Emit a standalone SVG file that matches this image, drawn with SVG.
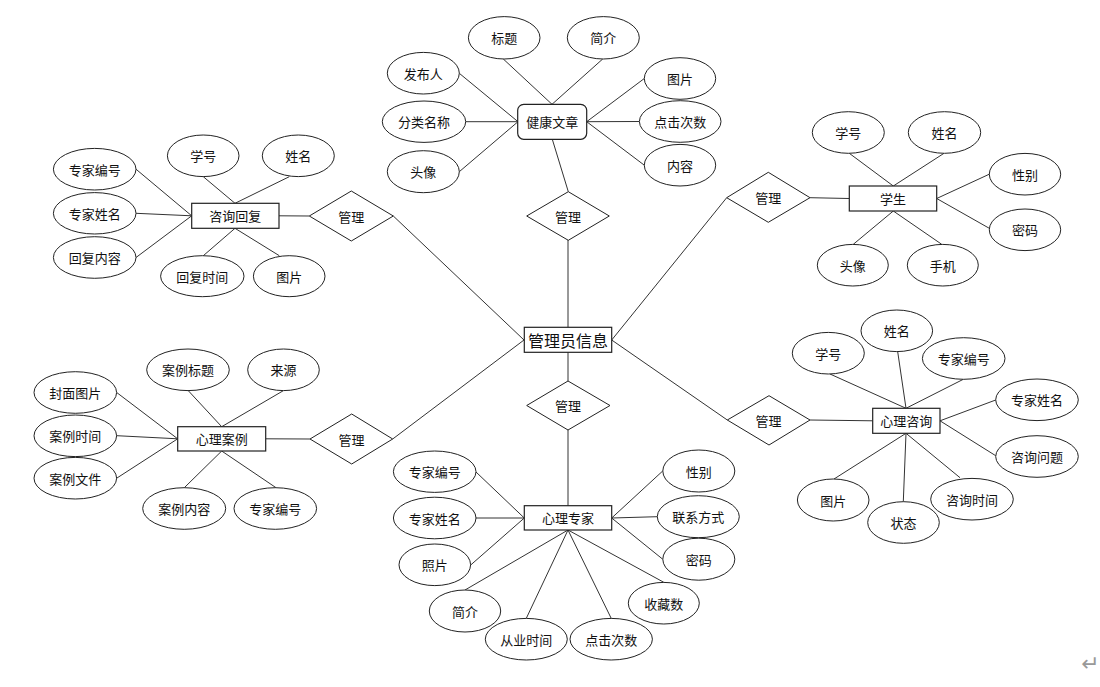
<svg xmlns="http://www.w3.org/2000/svg" width="1100" height="687" viewBox="0 0 1100 687">
<style>
.bg{fill:#fff}
.attr ellipse{fill:#fff;stroke:#222;stroke-width:1}
.ent rect{fill:#fff;stroke:#222;stroke-width:1.2}
.rel polygon{fill:#fff;stroke:#222;stroke-width:1}
text{font-family:"Noto Sans CJK SC","Microsoft YaHei",sans-serif;font-size:13px;fill:#111;text-anchor:middle;dominant-baseline:central}
.big{font-size:16px}
#connectors line{stroke:#333;stroke-width:1}
.mark{font-family:"DejaVu Sans",sans-serif;font-size:22px;fill:#999;text-anchor:start}
</style>
<rect class="bg" x="0" y="0" width="1100" height="687"/>
<g id="connectors">
<line x1="568" y1="240" x2="568" y2="327"/>
<line x1="568" y1="352" x2="568" y2="381"/>
<line x1="568" y1="430" x2="568" y2="506"/>
<line x1="393.3" y1="216" x2="524" y2="340"/>
<line x1="392.7" y1="439" x2="524" y2="340"/>
<line x1="726.7" y1="197.7" x2="611.7" y2="340"/>
<line x1="727.3" y1="420" x2="611.7" y2="340"/>
<line x1="552.3" y1="139.3" x2="568.3" y2="191.7"/>
<line x1="503.3" y1="59" x2="552" y2="104.3"/>
<line x1="602.7" y1="59" x2="552" y2="104.3"/>
<line x1="459.3" y1="73.3" x2="518" y2="121.7"/>
<line x1="465.7" y1="121.7" x2="518" y2="121.7"/>
<line x1="459.3" y1="171.7" x2="518" y2="121.7"/>
<line x1="644.3" y1="78.5" x2="586.7" y2="121.7"/>
<line x1="639.3" y1="121.5" x2="586.7" y2="121.7"/>
<line x1="644.3" y1="165.2" x2="586.7" y2="121.7"/>
<line x1="136" y1="169.2" x2="191.7" y2="215.8"/>
<line x1="136" y1="213.3" x2="191.7" y2="215.8"/>
<line x1="136" y1="257.5" x2="191.7" y2="215.8"/>
<line x1="203.3" y1="176.7" x2="235" y2="203.3"/>
<line x1="289.3" y1="176.7" x2="235" y2="203.3"/>
<line x1="203.3" y1="255.7" x2="235" y2="228.3"/>
<line x1="279.3" y1="255.7" x2="235" y2="228.3"/>
<line x1="279" y1="215.8" x2="309.3" y2="216"/>
<line x1="810" y1="197.7" x2="849.3" y2="198.5"/>
<line x1="849.3" y1="153.3" x2="893.3" y2="186"/>
<line x1="944" y1="153.3" x2="893.3" y2="186"/>
<line x1="989.3" y1="174.2" x2="936.7" y2="198.5"/>
<line x1="989.3" y1="228.3" x2="936.7" y2="198.5"/>
<line x1="853.3" y1="244.3" x2="893.3" y2="211"/>
<line x1="941.7" y1="244.3" x2="893.3" y2="211"/>
<line x1="116.7" y1="392.5" x2="177.7" y2="438.8"/>
<line x1="116.7" y1="435.7" x2="177.7" y2="438.8"/>
<line x1="116.7" y1="478.2" x2="177.7" y2="438.8"/>
<line x1="188.3" y1="390.7" x2="221.7" y2="426.7"/>
<line x1="283.3" y1="390.7" x2="221.7" y2="426.7"/>
<line x1="184.3" y1="487.7" x2="221.7" y2="451"/>
<line x1="276" y1="487.7" x2="221.7" y2="451"/>
<line x1="265.7" y1="438.8" x2="310" y2="439"/>
<line x1="810" y1="420" x2="872.7" y2="420.8"/>
<line x1="830" y1="374" x2="906" y2="408.3"/>
<line x1="897.7" y1="351.7" x2="906" y2="408.3"/>
<line x1="963.3" y1="379.3" x2="906" y2="408.3"/>
<line x1="995.7" y1="400" x2="940" y2="420.8"/>
<line x1="995.7" y1="455.7" x2="940" y2="420.8"/>
<line x1="834" y1="479" x2="906" y2="433.3"/>
<line x1="903.3" y1="501.7" x2="906" y2="433.3"/>
<line x1="960" y1="477.7" x2="906" y2="433.3"/>
<line x1="476" y1="472" x2="524.3" y2="518"/>
<line x1="476" y1="518" x2="524.3" y2="518"/>
<line x1="470.7" y1="565" x2="524.3" y2="518"/>
<line x1="465" y1="590" x2="568" y2="530"/>
<line x1="526.3" y1="618.3" x2="568" y2="530"/>
<line x1="611.2" y1="618.3" x2="568" y2="530"/>
<line x1="663.8" y1="582.3" x2="568" y2="530"/>
<line x1="662.7" y1="471" x2="611.7" y2="518"/>
<line x1="657.3" y1="516.7" x2="611.7" y2="518"/>
<line x1="662.7" y1="559.2" x2="611.7" y2="518"/>
</g>

<g id="admin" class="ent"><rect x="524.3" y="327.3" width="87.4" height="25"/><text class="big" x="568" y="340">管理员信息</text></g>
<g id="article" class="ent"><rect x="517.7" y="104.3" width="69" height="35" rx="6"/><text x="552.2" y="121.8">健康文章</text></g>
<g id="reply" class="ent"><rect x="191.7" y="203.3" width="87.3" height="25"/><text x="235.3" y="215.8">咨询回复</text></g>
<g id="student" class="ent"><rect x="849.3" y="186" width="87.4" height="25"/><text x="893" y="198.5">学生</text></g>
<g id="case" class="ent"><rect x="177.7" y="426.7" width="88" height="24.3"/><text x="221.7" y="438.8">心理案例</text></g>
<g id="consult" class="ent"><rect x="872.7" y="408.3" width="67.3" height="25"/><text x="906.3" y="420.8">心理咨询</text></g>
<g id="expert" class="ent"><rect x="524.3" y="505.7" width="87.4" height="24.3"/><text x="568" y="517.9">心理专家</text></g>

<g id="rel-article" class="rel"><polygon points="568.3,191.7 609.3,216 568.3,240.3 526.7,216"/><text x="568" y="216">管理</text></g>
<g id="rel-reply" class="rel"><polygon points="351.3,191 393.3,216 351.3,241 309.3,216"/><text x="351.3" y="216">管理</text></g>
<g id="rel-student" class="rel"><polygon points="768.3,172.3 810,197.7 768.3,222.3 726.7,197.7"/><text x="768.3" y="197.5">管理</text></g>
<g id="rel-case" class="rel"><polygon points="351.7,414 392.7,439 351.7,464 310,439"/><text x="351.5" y="439">管理</text></g>
<g id="rel-consult" class="rel"><polygon points="769,395.7 810,420 769,445 727.3,420"/><text x="768.5" y="420.3">管理</text></g>
<g id="rel-expert" class="rel"><polygon points="568,381 610,405.5 568,430 526.7,405.5"/><text x="568" y="405.5">管理</text></g>

<g id="a-art-title" class="attr"><ellipse cx="504.2" cy="37.8" rx="35.8" ry="21.2"/><text x="504.2" y="37.8">标题</text></g>
<g id="a-art-intro" class="attr"><ellipse cx="603.3" cy="37.8" rx="36" ry="21.2"/><text x="603.3" y="37.8">简介</text></g>
<g id="a-art-author" class="attr"><ellipse cx="423.3" cy="73.2" rx="36" ry="20.8"/><text x="423.3" y="73.2">发布人</text></g>
<g id="a-art-cat" class="attr"><ellipse cx="424" cy="121.7" rx="41.7" ry="20.7"/><text x="424" y="121.7">分类名称</text></g>
<g id="a-art-avatar" class="attr"><ellipse cx="423.3" cy="171.7" rx="36" ry="21"/><text x="423.3" y="171.7">头像</text></g>
<g id="a-art-pic" class="attr"><ellipse cx="680" cy="78.5" rx="35.7" ry="20.8"/><text x="680" y="78.5">图片</text></g>
<g id="a-art-clicks" class="attr"><ellipse cx="680.2" cy="121.5" rx="40.8" ry="20.8"/><text x="680.2" y="121.5">点击次数</text></g>
<g id="a-art-content" class="attr"><ellipse cx="680" cy="165.2" rx="35.7" ry="20.8"/><text x="680" y="165.2">内容</text></g>

<g id="a-rep-eno" class="attr"><ellipse cx="94.7" cy="169.2" rx="41.3" ry="20.8"/><text x="94.7" y="169.2">专家编号</text></g>
<g id="a-rep-ename" class="attr"><ellipse cx="94.7" cy="213.3" rx="41.3" ry="20.7"/><text x="94.7" y="213.3">专家姓名</text></g>
<g id="a-rep-content" class="attr"><ellipse cx="94.7" cy="257.5" rx="41.3" ry="20.8"/><text x="94.7" y="257.5">回复内容</text></g>
<g id="a-rep-sno" class="attr"><ellipse cx="203.2" cy="155.8" rx="35.8" ry="20.8"/><text x="203.2" y="155.8">学号</text></g>
<g id="a-rep-name" class="attr"><ellipse cx="298.3" cy="155.8" rx="36" ry="20.8"/><text x="298.3" y="155.8">姓名</text></g>
<g id="a-rep-time" class="attr"><ellipse cx="202.3" cy="276.2" rx="41.7" ry="20.5"/><text x="202.3" y="276.2">回复时间</text></g>
<g id="a-rep-pic" class="attr"><ellipse cx="289.2" cy="276.2" rx="35.8" ry="20.5"/><text x="289.2" y="276.2">图片</text></g>

<g id="a-stu-sno" class="attr"><ellipse cx="848.3" cy="132.5" rx="36" ry="20.8"/><text x="848.3" y="132.5">学号</text></g>
<g id="a-stu-name" class="attr"><ellipse cx="944.5" cy="132.5" rx="36.2" ry="20.8"/><text x="944.5" y="132.5">姓名</text></g>
<g id="a-stu-sex" class="attr"><ellipse cx="1025" cy="174.2" rx="35.7" ry="20.8"/><text x="1025" y="174.2">性别</text></g>
<g id="a-stu-pwd" class="attr"><ellipse cx="1025" cy="229.8" rx="35.7" ry="20.8"/><text x="1025" y="229.8">密码</text></g>
<g id="a-stu-avatar" class="attr"><ellipse cx="852.8" cy="265.2" rx="35.5" ry="20.8"/><text x="852.8" y="265.2">头像</text></g>
<g id="a-stu-phone" class="attr"><ellipse cx="942.8" cy="265.2" rx="35.5" ry="20.8"/><text x="942.8" y="265.2">手机</text></g>

<g id="a-case-cover" class="attr"><ellipse cx="75.3" cy="392.5" rx="41.3" ry="20.8"/><text x="75.3" y="392.5">封面图片</text></g>
<g id="a-case-time" class="attr"><ellipse cx="75.3" cy="435.8" rx="41.3" ry="20.8"/><text x="75.3" y="435.8">案例时间</text></g>
<g id="a-case-file" class="attr"><ellipse cx="75.3" cy="478.2" rx="41.3" ry="20.8"/><text x="75.3" y="478.2">案例文件</text></g>
<g id="a-case-title" class="attr"><ellipse cx="188" cy="369.8" rx="41.3" ry="20.8"/><text x="188" y="369.8">案例标题</text></g>
<g id="a-case-src" class="attr"><ellipse cx="283.5" cy="369.8" rx="35.8" ry="20.8"/><text x="283.5" y="369.8">来源</text></g>
<g id="a-case-content" class="attr"><ellipse cx="184.2" cy="508.5" rx="41.5" ry="20.8"/><text x="184.2" y="508.5">案例内容</text></g>
<g id="a-case-eno" class="attr"><ellipse cx="275.3" cy="508.5" rx="41.3" ry="20.8"/><text x="275.3" y="508.5">专家编号</text></g>

<g id="a-con-name" class="attr"><ellipse cx="896.8" cy="330.8" rx="35.8" ry="20.8"/><text x="896.8" y="330.8">姓名</text></g>
<g id="a-con-sno" class="attr"><ellipse cx="828.3" cy="353.2" rx="36" ry="20.8"/><text x="828.3" y="353.2">学号</text></g>
<g id="a-con-eno" class="attr"><ellipse cx="963.7" cy="358.5" rx="41.3" ry="20.8"/><text x="963.7" y="358.5">专家编号</text></g>
<g id="a-con-ename" class="attr"><ellipse cx="1037" cy="399.8" rx="41.3" ry="20.8"/><text x="1037" y="399.8">专家姓名</text></g>
<g id="a-con-q" class="attr"><ellipse cx="1037" cy="456.5" rx="41.3" ry="20.8"/><text x="1037" y="456.5">咨询问题</text></g>
<g id="a-con-time" class="attr"><ellipse cx="972" cy="499.2" rx="41.3" ry="20.8"/><text x="972" y="499.2">咨询时间</text></g>
<g id="a-con-state" class="attr"><ellipse cx="903.5" cy="522.5" rx="35.8" ry="20.8"/><text x="903.5" y="522.5">状态</text></g>
<g id="a-con-pic" class="attr"><ellipse cx="833.2" cy="500" rx="35.8" ry="21"/><text x="833.2" y="500">图片</text></g>

<g id="a-exp-eno" class="attr"><ellipse cx="434.7" cy="471.7" rx="41.3" ry="20.7"/><text x="434.7" y="471.7">专家编号</text></g>
<g id="a-exp-ename" class="attr"><ellipse cx="434.7" cy="518" rx="41.3" ry="20.8"/><text x="434.7" y="518">专家姓名</text></g>
<g id="a-exp-photo" class="attr"><ellipse cx="434.8" cy="564.8" rx="35.8" ry="20.8"/><text x="434.8" y="564.8">照片</text></g>
<g id="a-exp-intro" class="attr"><ellipse cx="465" cy="611" rx="35.7" ry="21"/><text x="465" y="611">简介</text></g>
<g id="a-exp-years" class="attr"><ellipse cx="526.3" cy="639.2" rx="41" ry="20.8"/><text x="526.3" y="639.2">从业时间</text></g>
<g id="a-exp-clicks" class="attr"><ellipse cx="611.2" cy="639.2" rx="41.2" ry="20.8"/><text x="611.2" y="639.2">点击次数</text></g>
<g id="a-exp-fav" class="attr"><ellipse cx="663.8" cy="603.2" rx="35.5" ry="20.8"/><text x="663.8" y="603.2">收藏数</text></g>
<g id="a-exp-sex" class="attr"><ellipse cx="698.8" cy="471" rx="36" ry="21"/><text x="698.8" y="471">性别</text></g>
<g id="a-exp-contact" class="attr"><ellipse cx="698.3" cy="516.7" rx="41" ry="21"/><text x="698.3" y="516.7">联系方式</text></g>
<g id="a-exp-pwd" class="attr"><ellipse cx="698.8" cy="559.2" rx="36" ry="21"/><text x="698.8" y="559.2">密码</text></g>

<text class="mark" x="1081" y="663">↵</text>
</svg>
